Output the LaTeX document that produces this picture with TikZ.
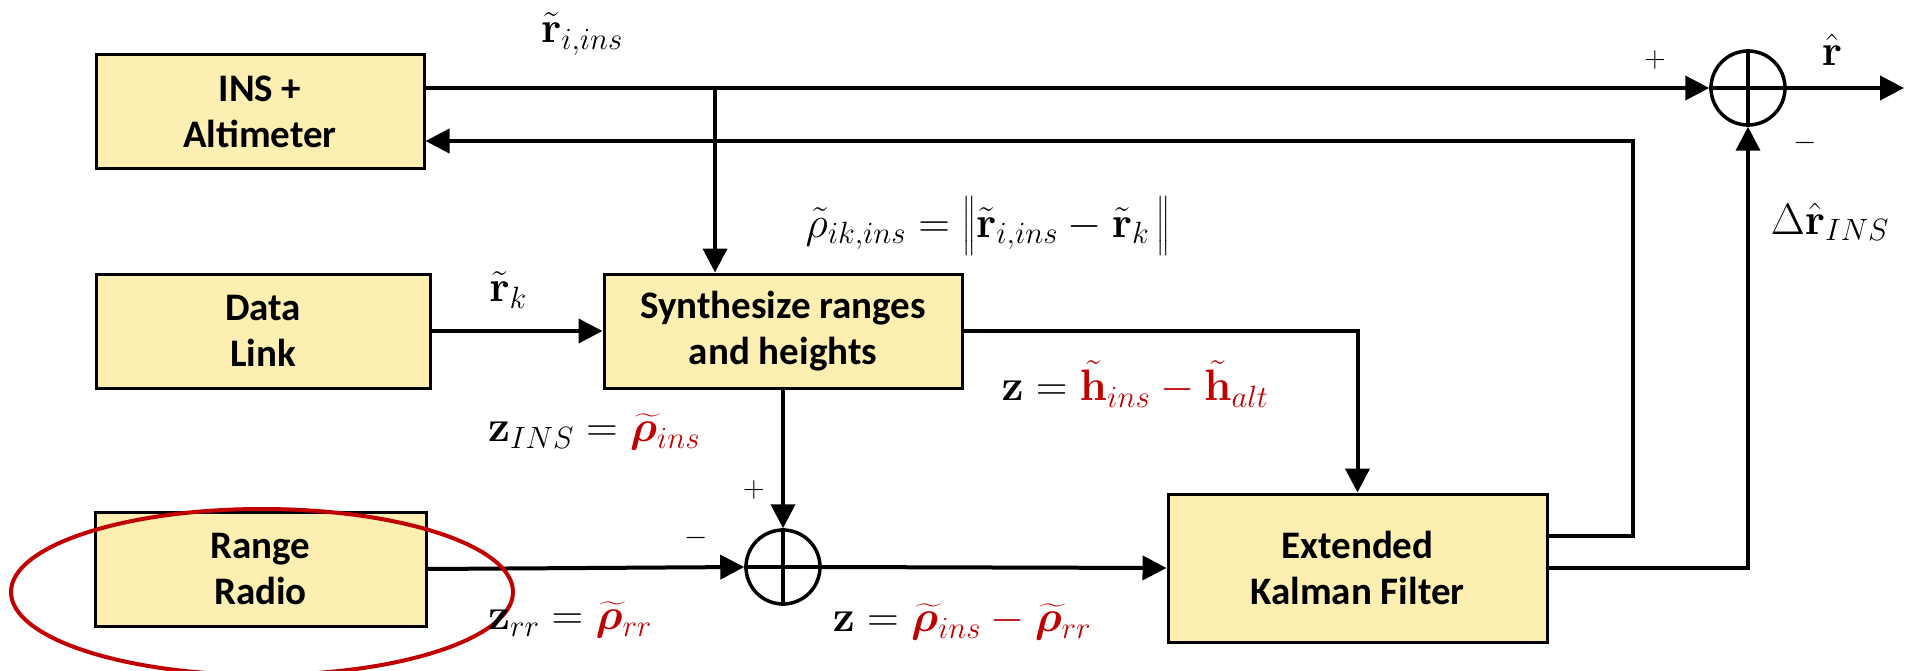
\RequirePackage{fix-cm}
\documentclass[tikz,border=0pt]{standalone}
\usepackage{amsmath,bm}
\usepackage[no-math]{fontspec}
\setmainfont{Carlito}
\usetikzlibrary{arrows.meta,calc}
\definecolor{boxfill}{HTML}{FDEEB1}
\definecolor{myred}{HTML}{C00000}
\begin{document}
\begin{tikzpicture}[x=1pt,y=-1pt,
  blk/.style={draw=black,line width=3pt,fill=boxfill,align=center,inner sep=0pt,
    font=\bfseries\fontsize{39}{46}\selectfont},
  sumnode/.style={draw=black,line width=3.5pt,circle,minimum size=74pt,inner sep=0pt},
  arr/.style={line width=4pt,-{Triangle[length=24pt,width=24pt]}},
  lbl/.style={inner sep=0pt,font=\fontsize{44}{50}\selectfont},
  sgn/.style={inner sep=0pt,font=\fontsize{30}{34}\selectfont}]
\useasboundingbox (0,0) rectangle (1908,671);

% blocks
\node[blk,minimum width=328pt,minimum height=114pt] (ins) at (260,112) {INS +\\Altimeter};
\node[blk,minimum width=334pt,minimum height=114pt] (data) at (263,331) {Data\\Link};
\node[blk,minimum width=358pt,minimum height=114pt] (synth) at (783,331) {Synthesize ranges\\and heights};
\node[blk,minimum width=331pt,minimum height=114pt] (radio) at (260.5,569) {Range\\Radio};
\node[blk,minimum width=379pt,minimum height=148pt] (ekf) at (1357.5,568) {Extended\\Kalman Filter};

% summing junctions
\node[sumnode] (sum1) at (1748,88) {};
\draw[line width=3.5pt] (sum1.north) -- (sum1.south) (sum1.west) -- (sum1.east);
\node[sumnode] (sum2) at (783,567) {};
\draw[line width=3.5pt] (sum2.north) -- (sum2.south) (sum2.west) -- (sum2.east);

% coordinates
\coordinate (tap) at (715,88);
\coordinate (fb) at (1633,141);
\coordinate (rout) at (1904,88);

% connectors
\draw[arr] ([yshift=24pt]ins.east) -- (sum1.west);
\draw[arr] (sum1.east) -- (rout);
\draw[arr] (tap) -- (tap |- synth.north);
\draw[arr] ([yshift=32pt]ekf.east) -| (fb) -- ([yshift=-29pt]ins.east);
\draw[arr] (ekf.east) -| (sum1.south);
\draw[arr] (data.east) -- (synth.west);
\draw[arr] (synth.east) -| (ekf.north);
\draw[arr] (synth.south) -- (sum2.north);
\draw[arr] (radio.east) -- (sum2.west);
\draw[arr] (sum2.east) -- (ekf.west);

% red ellipse
\draw[myred,line width=4pt] (262,592) ellipse [x radius=251pt,y radius=83pt];

% labels
\node[lbl] (lri) at (582,34) {$\tilde{\mathbf r}_{i,ins}$};
\node[lbl] (lrk) at (508,290) {$\tilde{\mathbf r}_{k}$};
\node[lbl] (lrho) at (988,226) {$\tilde{\rho}_{ik,ins} = \bigl\|\tilde{\mathbf r}_{i,ins} - \tilde{\mathbf r}_k\,\bigr\|$};
\node[lbl] (lzh) at (1135,384) {$\mathbf z = {\color{myred}\tilde{\mathbf h}_{ins} - \tilde{\mathbf h}_{alt}}$};
\node[lbl] (lzins) at (594,432) {$\mathbf z_{INS} = {\color{myred}\widetilde{\bm\rho}_{ins}}$};
\node[lbl] (lzrr) at (570,620) {$\mathbf z_{rr} = {\color{myred}\widetilde{\bm\rho}_{rr}}$};
\node[lbl] (lzd) at (962,622) {$\mathbf z = {\color{myred}\widetilde{\bm\rho}_{ins} - \widetilde{\bm\rho}_{rr}}$};
\node[lbl] (lrhat) at (1832,50) {$\hat{\mathbf r}$};
\node[lbl] (ldr) at (1830,222) {$\Delta\hat{\mathbf r}_{INS}$};
\node[sgn] (p1) at (1655,60) {$+$};
\node[sgn] (m1) at (1805,143) {$-$};
\node[sgn] (p2) at (754,490) {$+$};
\node[sgn] (m2) at (696,538) {$-$};
\end{tikzpicture}
\end{document}
